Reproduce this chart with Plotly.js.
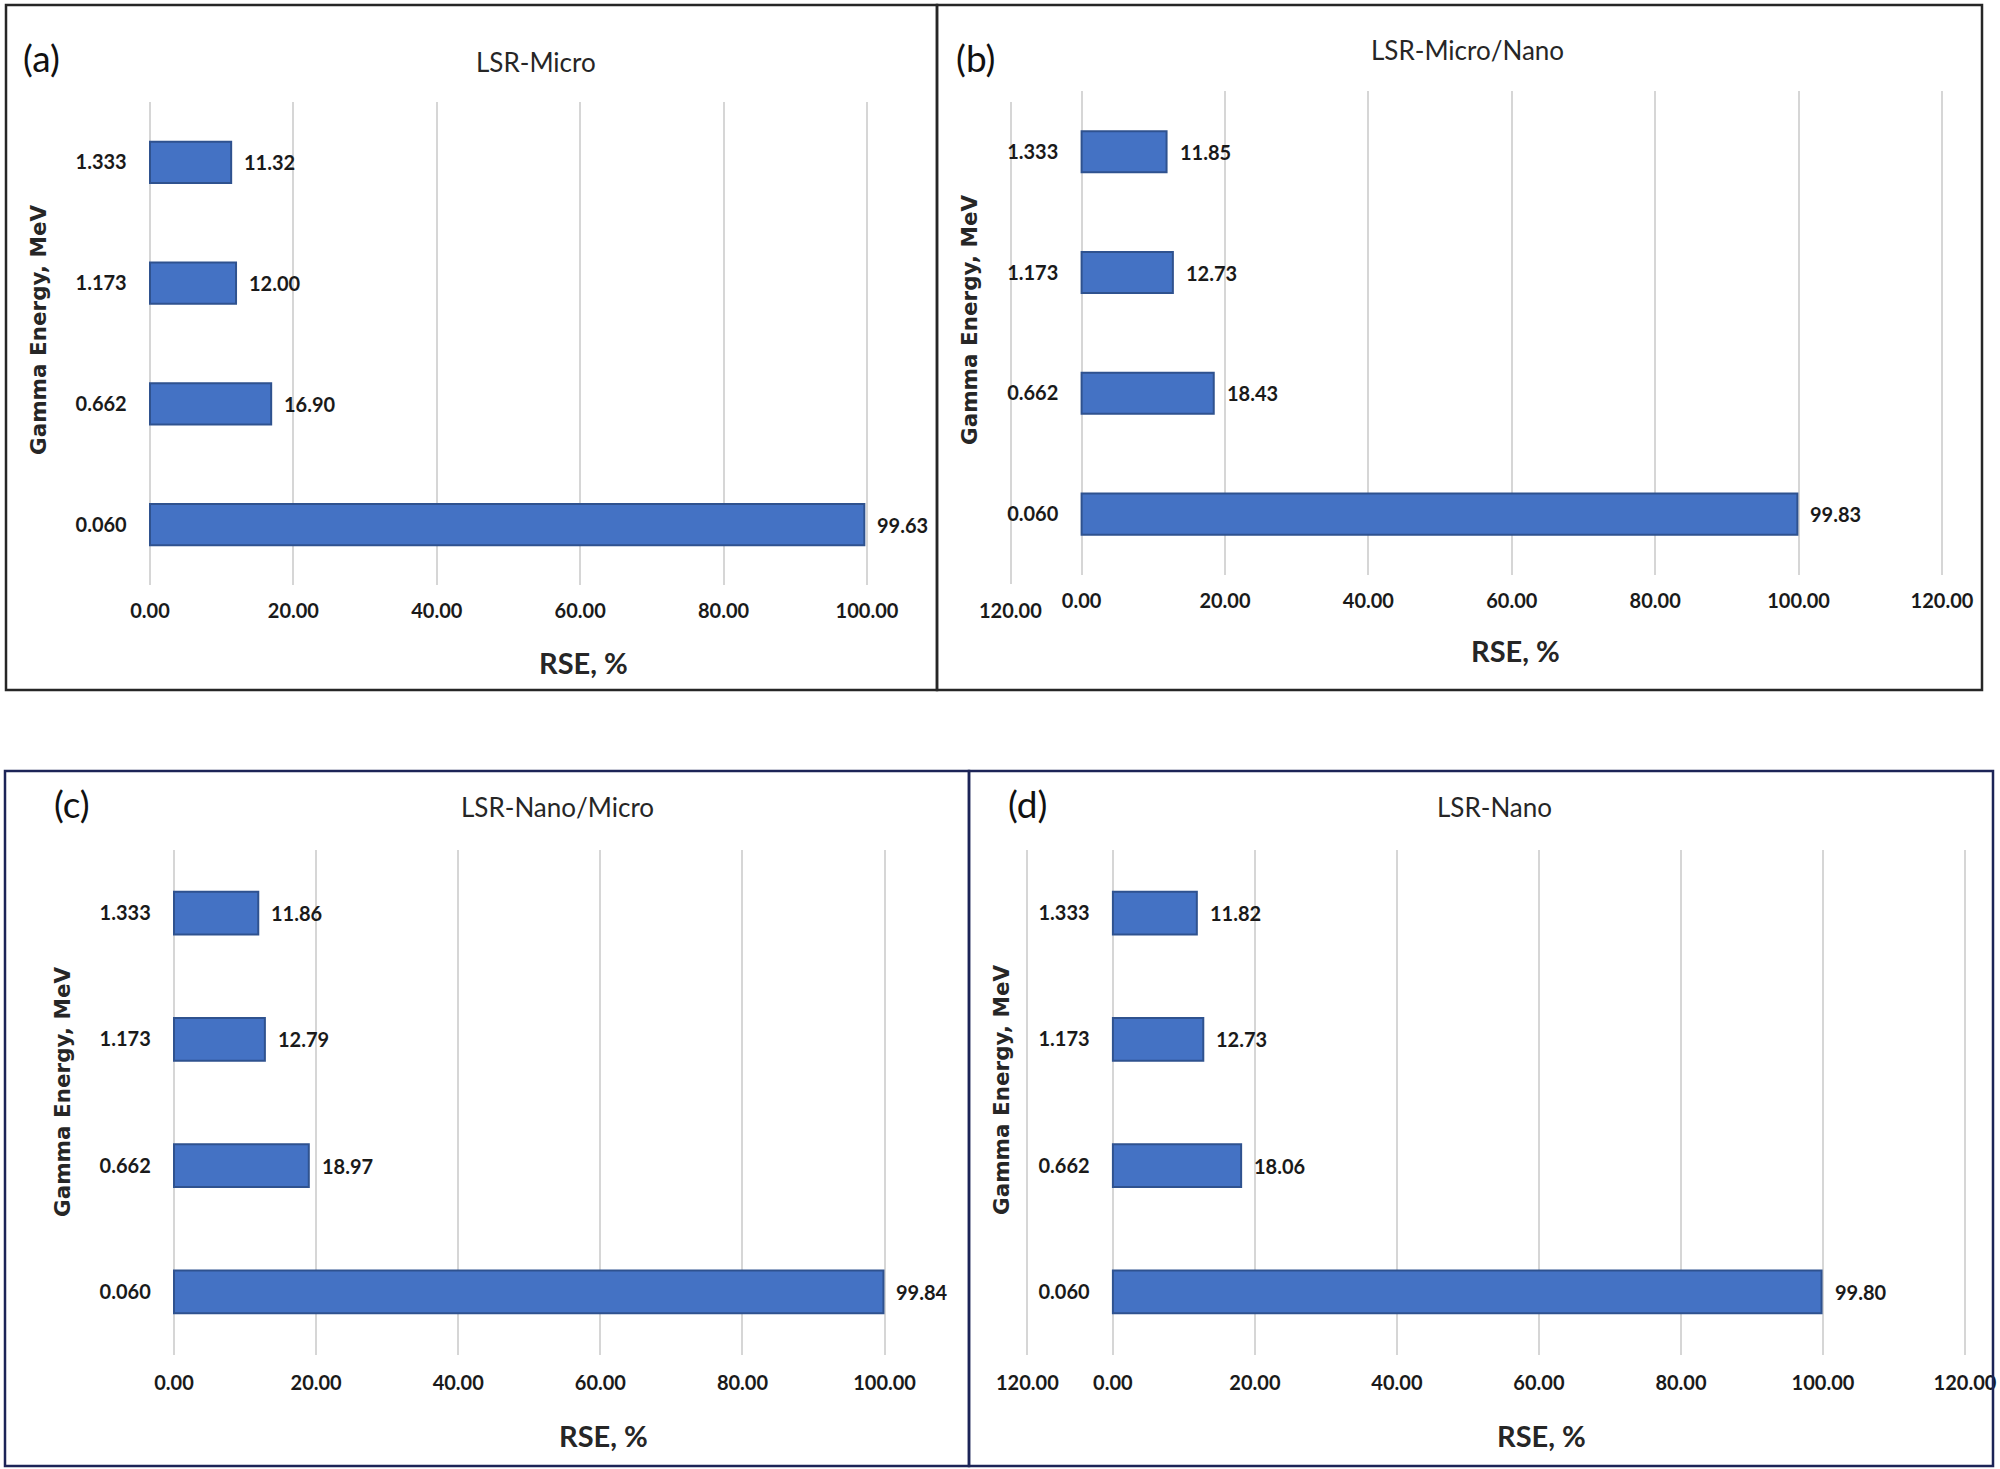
<!DOCTYPE html>
<html>
<head>
<meta charset="utf-8">
<script src="https://cdn.plot.ly/plotly-3.0.1.min.js"></script>
<style>
  html, body { margin: 0; padding: 0; background: #fff; }
  #chart { width: 2000px; height: 1469px; }
</style>
</head>
<body>
<div id="chart"></div>
<script>
// gamma energies in MeV, listed bottom to top
const energies = ['0.060', '0.662', '1.173', '1.333'];

// RSE, % per sample (same order as energies)
const rseMicro = [99.63, 16.90, 12.00, 11.32];
const rseMicroNano = [99.83, 18.43, 12.73, 11.85];
const rseNanoMicro = [99.84, 18.97, 12.79, 11.86];
const rseNano = [99.80, 18.06, 12.73, 11.82];

const panelTitles = ['LSR-Micro', 'LSR-Micro/Nano', 'LSR-Nano/Micro', 'LSR-Nano'];
const panelLetters = ['(a)', '(b)', '(c)', '(d)'];
const panelValues = [rseMicro, rseMicroNano, rseNanoMicro, rseNano];
const xMax = [100, 120, 100, 120];

// page is 2000 x 1469, margins are zero so paper maps 1:1 to pixels
const W = 2000, H = 1469;
const px = (v) => v / W;
const py = (v) => 1 - v / H;

// placement of each panel, in pixels (plotX = where 0 and xMax fall)
const panels = [
  { box: [6, 5, 937, 690], plotX: [150, 867], plotY: [102, 585], standoff: 12,
    title: [536, 62], letter: [41, 58], yTitle: [38, 330], xTitle: [583, 662], frame: '#262626' },
  { box: [937, 5, 1982, 690], plotX: [1081.6, 1942], plotY: [91.4, 574.5], standoff: 12,
    title: [1467, 50], letter: [975, 58], yTitle: [969, 320], xTitle: [1515, 651], frame: '#262626' },
  { box: [5, 771, 969, 1466], plotX: [174, 884.6], plotY: [850, 1355], standoff: 14,
    title: [557, 807], letter: [72, 803], yTitle: [62, 1092], xTitle: [603, 1435], frame: '#1c2457' },
  { box: [969, 771, 1993, 1466], plotX: [1112.9, 1965], plotY: [850, 1355], standoff: 14,
    title: [1494, 807], letter: [1027, 803], yTitle: [1001, 1090], xTitle: [1541, 1435], frame: '#1c2457' },
];

// stray leftover gridlines + labels seen left of panels (b) and (d)
const strayGrid = [
  { x: 1011, y0: 102, y1: 584, labelY: 610 },
  { x: 1027, y0: 850, y1: 1355, labelY: 1382 },
];

const pad = 0.6; // extra axis room so edge gridlines are kept

const numFont = { family: 'Lato, sans-serif', size: 20, color: '#1a1a1a', weight: 700 };
const titleFont = { family: 'Lato, sans-serif', size: 26, color: '#262626' };
const letterFont = { family: 'Lato, sans-serif', size: 37, color: '#111' };
const yTitleFont = { family: 'DejaVu Sans, sans-serif', size: 21.5, color: '#262626', weight: 700 };
const xTitleFont = { family: 'Lato, sans-serif', size: 29, color: '#262626', weight: 700 };

const data = [];
const annotations = [];
const shapes = [];
const layout = {
  width: W,
  height: H,
  margin: { l: 0, r: 0, t: 0, b: 0 },
  paper_bgcolor: '#ffffff',
  plot_bgcolor: '#ffffff',
  showlegend: false,
  bargap: 0.66,
};

panels.forEach((p, i) => {
  const n = i === 0 ? '' : String(i + 1);
  const xa = 'xaxis' + n;
  const ya = 'yaxis' + n;
  const ppu = (p.plotX[1] - p.plotX[0]) / xMax[i];

  layout[xa] = {
    domain: [px(p.plotX[0] - pad * ppu), px(p.plotX[1] + pad * ppu)],
    anchor: 'y' + n,
    range: [-pad, xMax[i] + pad],
    tick0: 0,
    dtick: 20,
    tickformat: '.2f',
    showgrid: true,
    gridcolor: '#d6d6d6',
    gridwidth: 2,
    zeroline: true,
    zerolinecolor: '#d6d6d6',
    zerolinewidth: 2,
    showline: false,
    ticks: '',
    ticklabelstandoff: p.standoff,
    tickfont: numFont,
    fixedrange: true,
  };
  layout[ya] = {
    domain: [py(p.plotY[1]), py(p.plotY[0])],
    anchor: 'x' + n,
    type: 'category',
    categoryorder: 'array',
    categoryarray: energies,
    range: [-0.5, energies.length - 0.5],
    showgrid: false,
    zeroline: false,
    showline: false,
    ticks: '',
    ticklabelstandoff: 18,
    tickfont: numFont,
    fixedrange: true,
  };

  data.push({
    type: 'bar',
    orientation: 'h',
    x: panelValues[i],
    y: energies,
    xaxis: 'x' + n,
    yaxis: 'y' + n,
    marker: { color: '#4472c4', line: { color: '#2f528f', width: 2 } },
    hoverinfo: 'skip',
  });

  // value labels to the right of each bar (y given as category index)
  panelValues[i].forEach((v, k) => {
    annotations.push({
      xref: 'x' + n, yref: 'y' + n,
      x: v, y: k,
      text: v.toFixed(2),
      xanchor: 'left', yanchor: 'middle',
      xshift: 11,
      showarrow: false,
      font: numFont,
    });
  });

  const paperText = (pos, text, font, extra) => Object.assign({
    xref: 'paper', yref: 'paper',
    x: px(pos[0]), y: py(pos[1]),
    text: text,
    xanchor: 'center', yanchor: 'middle',
    showarrow: false,
    font: font,
  }, extra || {});

  annotations.push(paperText(p.title, panelTitles[i], titleFont));
  annotations.push(paperText(p.letter, panelLetters[i], letterFont));
  annotations.push(paperText(p.xTitle, 'RSE, %', xTitleFont));
  annotations.push(paperText(p.yTitle, 'Gamma Energy, MeV', yTitleFont, { textangle: -90 }));

  shapes.push({
    type: 'rect', xref: 'paper', yref: 'paper',
    x0: px(p.box[0]), x1: px(p.box[2]),
    y0: py(p.box[3]), y1: py(p.box[1]),
    line: { color: p.frame, width: 2.5 },
    fillcolor: 'rgba(0,0,0,0)',
  });
});

strayGrid.forEach((g) => {
  shapes.push({
    type: 'line', xref: 'paper', yref: 'paper',
    x0: px(g.x), x1: px(g.x), y0: py(g.y0), y1: py(g.y1),
    line: { color: '#d6d6d6', width: 2 },
    layer: 'below',
  });
  annotations.push({
    xref: 'paper', yref: 'paper',
    x: px(g.x), y: py(g.labelY),
    text: (120).toFixed(2),
    xanchor: 'center', yanchor: 'middle',
    showarrow: false,
    font: numFont,
  });
});

layout.annotations = annotations;
layout.shapes = shapes;

Plotly.newPlot('chart', data, layout, { staticPlot: true, displayModeBar: false });
</script>
</body>
</html>
